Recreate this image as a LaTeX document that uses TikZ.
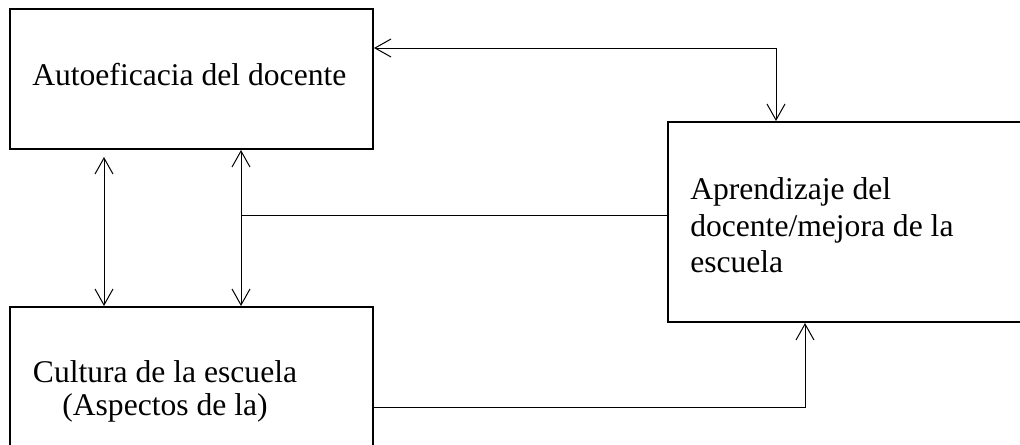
\documentclass[tikz,border=0pt]{standalone}
\usepackage{fontspec}
\setmainfont{Liberation Serif}
\usetikzlibrary{arrows.meta}
\begin{document}
\begin{tikzpicture}[x=0.75pt,y=-0.75pt,
  box/.style={draw,line width=1.5pt,inner sep=0pt,rectangle},
  conn/.style={line width=0.75pt},
  tip/.tip={Straight Barb[length=12pt,width=13.5pt]},
  lab/.style={inner sep=0pt,font=\fontsize{23.7}{28}\selectfont}]
\useasboundingbox (0,0) rectangle (1020,444);
% boxes
\node[box,minimum width={363*0.75pt},minimum height={140*0.75pt}] (A) at (191.5,79) {};
\node[box,minimum width={354*0.75pt},minimum height={200*0.75pt}] (C) at (845,222) {};
\node[box,minimum width={363*0.75pt},minimum height={139*0.75pt}] (B) at (191.5,376.5) {};
% labels
\node[lab,anchor=base west] (ta) at (32,85) {Autoeficacia del docente};
\node[lab,anchor=base west] (tc1) at (690,199) {Aprendizaje del};
\node[lab,anchor=base west] (tc2) at (690,236) {docente/mejora de la};
\node[lab,anchor=base west] (tc3) at (690,272) {escuela};
\node[lab,anchor=base] (tb1) at (165,382) {Cultura de la escuela};
\node[lab,anchor=base] (tb2) at (165,415) {(Aspectos de la)};
% connector coordinates
\coordinate (t1) at (776,48);
\coordinate (l1) at (104,157);
\coordinate (r1) at (241,215);
\coordinate (b1) at (805,407);
% connectors
\draw[conn,tip-tip] (A.east |- t1) -- (t1) -- (C.north -| t1);
\draw[conn,tip-tip] (l1) -- (l1 |- B.north);
\draw[conn,tip-tip] (r1 |- A.south) -- (r1 |- B.north);
\draw[conn] (r1) -- (r1 -| C.west);
\draw[conn,-tip] (b1 -| B.east) -- (b1) -- (b1 |- C.south);
\end{tikzpicture}
\end{document}
